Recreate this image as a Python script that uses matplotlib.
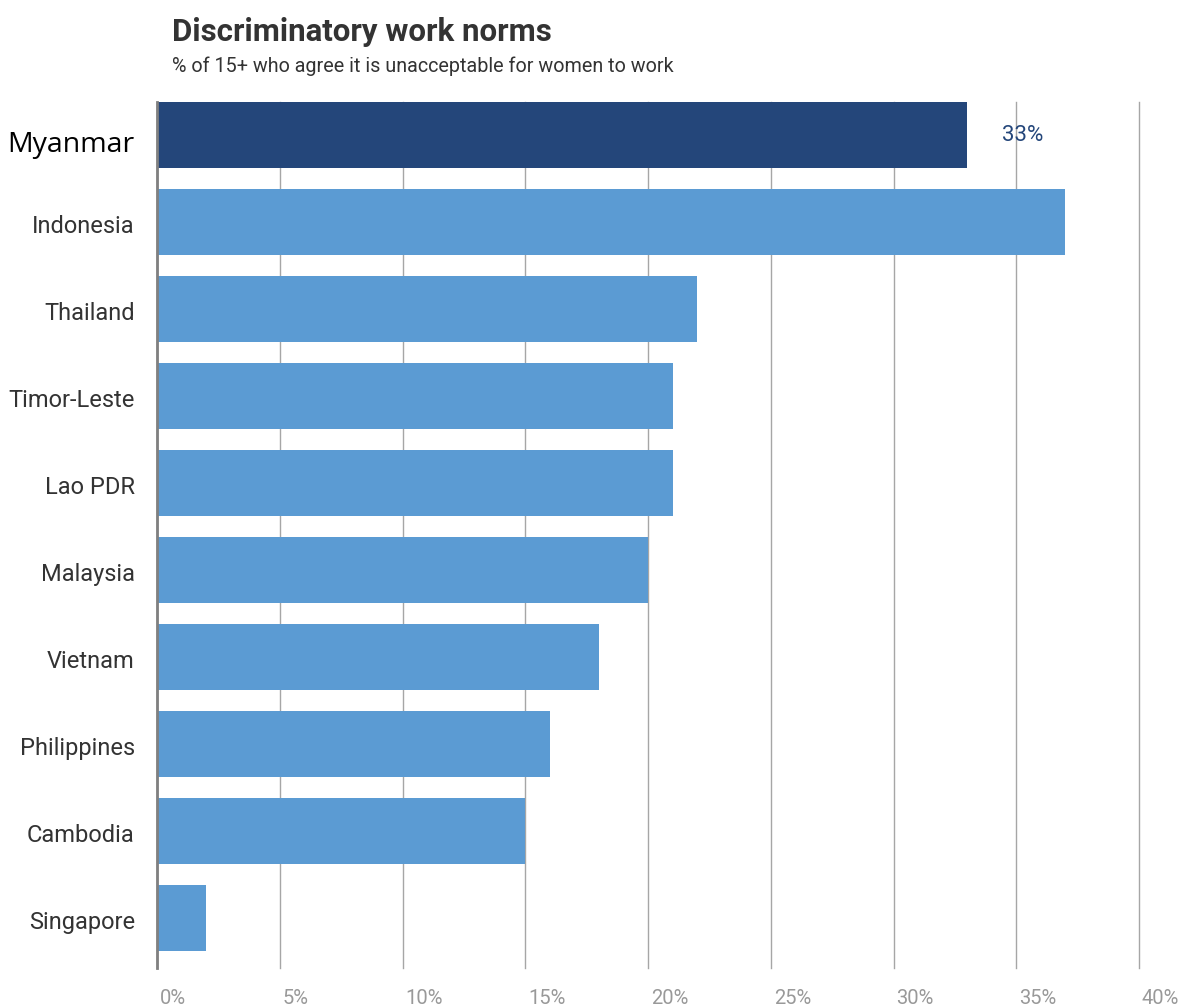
import matplotlib.pyplot as plt
from matplotlib.transforms import ScaledTranslation

# Data
countries = ['Myanmar', 'Indonesia', 'Thailand', 'Timor-Leste', 'Lao PDR',
             'Malaysia', 'Vietnam', 'Philippines', 'Cambodia', 'Singapore']
values = [33, 37, 22, 21, 21, 20, 18, 16, 15, 2]
highlight = 'Myanmar'
xticks = [0, 5, 10, 15, 20, 25, 30, 35, 40]

navy = '#24467a'
light = '#5b9bd3'

plt.rcParams['font.family'] = ['Roboto', 'DejaVu Sans']

fig = plt.figure(figsize=(11.84, 10.07), dpi=100)
ax = fig.add_axes([157 / 1184, 1 - 968 / 1007, (1139 - 157) / 1184, (968 - 102) / 1007])

colors = [navy if c == highlight else light for c in countries]
ypos = list(range(len(countries)))
ax.barh(ypos, values, height=0.76, color=colors, zorder=2)

ax.set_xlim(0, 40)
ax.set_ylim(len(countries) - 1 + 0.58, -0.38)

# gridlines
ax.set_xticks(xticks)
ax.grid(axis='x', color='#a6a6a6', linewidth=1.0, zorder=1)
for line in ax.get_xgridlines():
    line.set_clip_on(False)
for s in ['top', 'right', 'bottom']:
    ax.spines[s].set_visible(False)
ax.spines['left'].set_color('#808080')
ax.spines['left'].set_linewidth(2.0)
ax.spines['left'].set_zorder(3)

ax.set_xticklabels([f'{t}%' for t in xticks], color='#999999', fontsize=14.5)
ax.tick_params(axis='x', length=0, pad=15)
off = ScaledTranslation(3 / 100, 0, fig.dpi_scale_trans)
for lab in ax.get_xticklabels():
    lab.set_horizontalalignment('left')
    lab.set_transform(lab.get_transform() + off)

ax.set_yticks(ypos)
ax.set_yticklabels(countries, fontsize=17, color='#333333')
ax.tick_params(axis='y', length=0, pad=16)
down = ScaledTranslation(0, -2 / 100, fig.dpi_scale_trans)
for lab in ax.get_yticklabels():
    lab.set_transform(lab.get_transform() + down)
    if lab.get_text() == highlight:
        lab.set_fontsize(20.5)
        lab.set_color('black')
        lab.set_fontfamily(['Open Sans', 'DejaVu Sans'])
        lab.set_transform(lab.get_transform() + down + down)

# value label for highlighted bar
i = countries.index(highlight)
ax.annotate(f'{values[i]}%', xy=(values[i], i), xytext=(25, 0),
            textcoords='offset points', ha='left', va='center',
            color=navy, fontsize=16)

fig.text(172 / 1184, 1 - 32 / 1007, 'Discriminatory work norms',
         fontsize=22.5, fontweight='bold', color='#333333', va='center', ha='left')
fig.text(172 / 1184, 1 - 66 / 1007, '% of 15+ who agree it is unacceptable for women to work',
         fontsize=14.2, color='#333333', va='center', ha='left')

fig.savefig('out.png', dpi=100)
